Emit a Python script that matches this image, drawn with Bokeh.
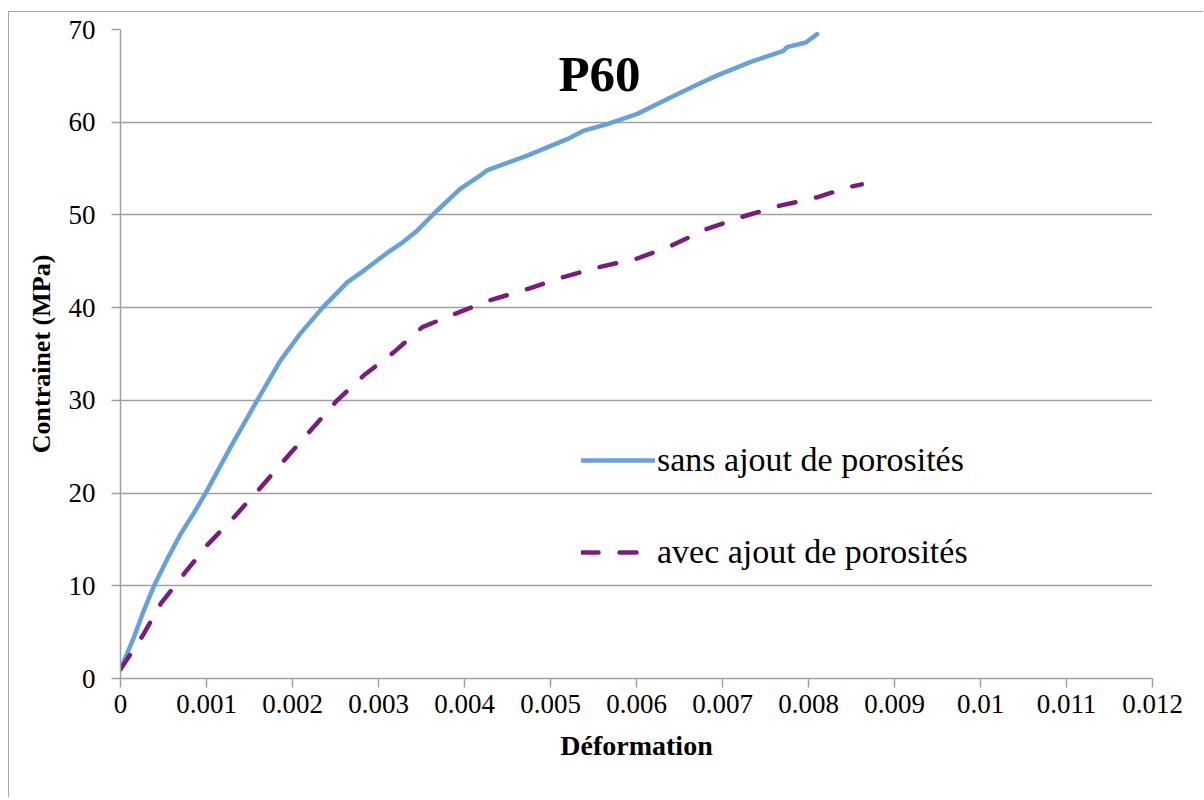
from bokeh.plotting import figure
from bokeh.models import Range1d, FixedTicker, Legend, LegendItem, Label
from bokeh.embed import file_html
from bokeh.resources import INLINE

# --- data ---
strain_sans = [0.0, 0.00015, 0.00027, 0.00039, 0.00055, 0.0007, 0.00085, 0.00099,
               0.00128, 0.00159, 0.00186, 0.00209, 0.00235, 0.00264, 0.00283, 0.0031,
               0.00326, 0.00345, 0.00364, 0.00395, 0.00419, 0.00426, 0.00473, 0.0052,
               0.00539, 0.00566, 0.00601, 0.00636, 0.00674, 0.00694, 0.00733, 0.00771,
               0.00775, 0.00797, 0.0081]
stress_sans = [1.0, 4.3, 7.3, 10.0, 13.0, 15.6, 17.8, 20.0,
               24.95, 30.0, 34.3, 37.2, 40.0, 42.75, 44.0, 45.9,
               46.9, 48.3, 50.1, 52.8, 54.3, 54.8, 56.4, 58.2,
               59.1, 59.8, 60.9, 62.5, 64.2, 65.05, 66.5, 67.7,
               68.1, 68.6, 69.5]

strain_avec = [0.0, 0.00025, 0.00047, 0.00074, 0.00101, 0.00132, 0.00163, 0.0019,
               0.00221, 0.00252, 0.00283, 0.00318, 0.00351, 0.00388, 0.0043, 0.00473,
               0.00515, 0.00558, 0.00601, 0.00641, 0.00682, 0.00723, 0.00767, 0.0081,
               0.00847, 0.00862]
stress_avec = [1.0, 4.5, 8.1, 11.3, 14.4, 17.4, 20.6, 23.5,
               26.75, 30.0, 32.7, 35.2, 37.9, 39.3, 40.8, 42.0,
               43.3, 44.4, 45.3, 46.7, 48.5, 49.8, 51.0, 51.9,
               53.0, 53.3]

x_ticks = [0, 0.001, 0.002, 0.003, 0.004, 0.005, 0.006, 0.007, 0.008, 0.009, 0.01, 0.011, 0.012]
x_tick_labels = ["0", "0.001", "0.002", "0.003", "0.004", "0.005", "0.006", "0.007",
                 "0.008", "0.009", "0.01", "0.011", "0.012"]
y_ticks = [0, 10, 20, 30, 40, 50, 60, 70]

series_names = ["sans ajout de porosités", "avec ajout de porosités"]
title_text = "P60"
x_label = "Déformation"
y_label = "Contrainet (MPa)"

SERIF = "Liberation Serif"
GRAY = "#a0a0a0"
BLUE = "#67a1dc"
PURPLE = "#7b1c7d"

p = figure(width=1195, height=786, output_backend="svg", toolbar_location=None,
           x_range=Range1d(0, 0.012), y_range=Range1d(0, 70),
           min_border_left=111, min_border_right=52, min_border_top=17, min_border_bottom=120,
           styles={"border-left": "1px solid #a6a6a6", "border-top": "1px solid #a6a6a6",
                   "margin-top": "11px", "margin-left": "8px"})
p.outline_line_color = None
p.background_fill_color = "white"
p.border_fill_color = "white"

# axes
p.xaxis.ticker = FixedTicker(ticks=x_ticks)
p.xaxis.major_label_overrides = {t: l for t, l in zip(x_ticks, x_tick_labels)}
p.yaxis.ticker = FixedTicker(ticks=y_ticks)
for ax in (p.xaxis, p.yaxis):
    ax.axis_line_color = GRAY
    ax.axis_line_width = 1.5
    ax.major_tick_line_color = GRAY
    ax.major_tick_line_width = 1.5
    ax.major_tick_in = 0
    ax.major_tick_out = 9
    ax.minor_tick_line_color = None
    ax.major_label_text_font = SERIF
    ax.major_label_text_font_size = "27px"
    ax.major_label_text_color = "black"
    ax.axis_label_text_font = SERIF
    ax.axis_label_text_font_style = "bold"
    ax.axis_label_text_color = "black"
p.xaxis.axis_label = x_label
p.yaxis.axis_label = y_label
p.xaxis.axis_label_text_font_size = "28px"
p.yaxis.axis_label_text_font_size = "26px"
p.xaxis.major_label_standoff = 7
p.yaxis.major_label_standoff = 16
p.xaxis.axis_label_standoff = 14
p.yaxis.axis_label_standoff = 10

p.xgrid.grid_line_color = None
p.ygrid.grid_line_color = GRAY
p.ygrid.grid_line_width = 1.5

r1 = p.line(strain_sans, stress_sans, line_color=BLUE, line_width=4.5,
            line_cap="round", line_join="round")
r2 = p.line(strain_avec, stress_avec, line_color=PURPLE, line_width=4.5,
            line_dash="17 21", line_cap="round", line_join="round")

legend = Legend(items=[LegendItem(label=series_names[0], renderers=[r1]),
                       LegendItem(label=series_names[1], renderers=[r2])],
                location=(461, 107), orientation="vertical",
                border_line_color=None, background_fill_alpha=0,
                padding=0, margin=0, spacing=54,
                glyph_width=74, glyph_height=30, label_height=30,
                label_standoff=2, label_text_font=SERIF,
                label_text_font_size="34px", label_text_color="black")
p.add_layout(legend, "center")

title = Label(x=0.00557, y=65.2, text=title_text, text_font=SERIF,
              text_font_size="51px", text_font_style="bold", text_color="black",
              text_align="center", text_baseline="middle")
p.add_layout(title)

open("out.html", "w").write(file_html(p, INLINE))
